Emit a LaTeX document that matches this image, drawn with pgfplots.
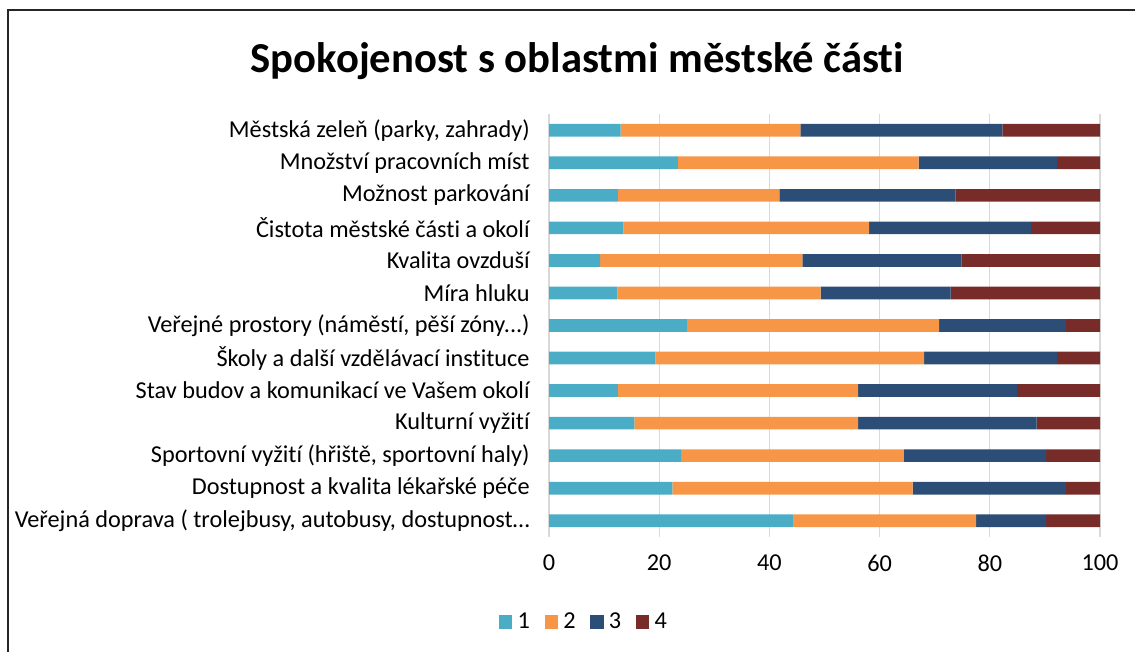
\documentclass[border=0pt]{standalone}
\usepackage{pgfplots}
\pgfplotsset{compat=1.18}
\usepackage{pgfplotstable}
\usepackage{fontspec}
\setmainfont{Carlito}[Ligatures=NoCommon]
\definecolor{c1}{HTML}{4BACC6}
\definecolor{c2}{HTML}{F79646}
\definecolor{c3}{HTML}{2C4D75}
\definecolor{c4}{HTML}{772C2A}
\definecolor{gridc}{HTML}{D9D9D9}
\pgfplotstableread{
y  a    b    c    d
1  13.0 32.6 36.7 17.7
2  23.4 43.7 25.1 7.8
3  12.5 29.3 32.0 26.2
4  13.5 44.6 29.4 12.5
5  9.3  36.7 28.9 25.1
6  12.4 36.9 23.6 27.1
7  25.0 45.8 23.0 6.2
8  19.3 48.8 24.1 7.8
9  12.5 43.6 28.8 15.1
10 15.5 40.6 32.4 11.5
11 24.0 40.4 25.8 9.8
12 22.4 43.6 27.8 6.2
13 44.4 33.1 12.7 9.8
}\data
\begin{document}
\begin{tikzpicture}
\useasboundingbox (0,0) rectangle (851.25pt,489pt);
\draw[line width=1pt,black!85] (6pt,-1pt) -- (6pt,481.5pt) -- (853pt,481.5pt);
\node[font=\fontsize{32}{36}\selectfont\bfseries] at (433pt,443pt) {Spokojenost s oblastmi městské části};
\begin{axis}[
  at={(411.75pt,86.25pt)}, anchor=south west,
  scale only axis, width=413.25pt, height=317.25pt,
  xbar stacked, bar width=9.5pt,
  xmin=0, xmax=100, ymin=0.5, ymax=13.5, y dir=reverse,
  xtick={0,20,40,60,80,100}, ytick={1,2,3,4,5,6,7,8,9,10,11,12,13},
  yticklabels={{Městská zeleň (parky, zahrady)},{Množství pracovních míst},{Možnost parkování},{Čistota městské části a okolí},{Kvalita ovzduší},{Míra hluku},{Veřejné prostory (náměstí, pěší zóny.{}.{}.)},{Školy a další vzdělávací instituce},{Stav budov a komunikací ve Vašem okolí},{Kulturní vyžití},{Sportovní vyžití (hřiště, sportovní haly)},{Dostupnost a kvalita lékařské péče},{Veřejná doprava ( trolejbusy, autobusy, dostupnost…}},
  xmajorgrids, grid style={gridc, line width=0.9pt},
  axis line style={draw=none}, major tick length=0pt,
  /pgf/number format/assume math mode=true,
  tick label style={font=\fontsize{18.2}{21}\selectfont},
  yticklabel style={xshift=-11pt},
  xticklabel style={yshift=-10pt},
  legend style={at={(0.064,-0.201)}, anchor=center, draw=none, legend columns=4,
    font=\fontsize{18.2}{21}\selectfont,
    /tikz/every odd column/.append style={column sep=2pt},
    /tikz/every even column/.append style={column sep=9pt}},
  legend image code/.code={\fill[#1] (0pt,-5pt) rectangle (10pt,5pt);},
]
\addplot[fill=c1, draw=none] table[x=a, y=y] {\data};
\addplot[fill=c2, draw=none] table[x=b, y=y] {\data};
\addplot[fill=c3, draw=none] table[x=c, y=y] {\data};
\addplot[fill=c4, draw=none] table[x=d, y=y] {\data};
\legend{1,2,3,4}
\end{axis}
\end{tikzpicture}
\end{document}
